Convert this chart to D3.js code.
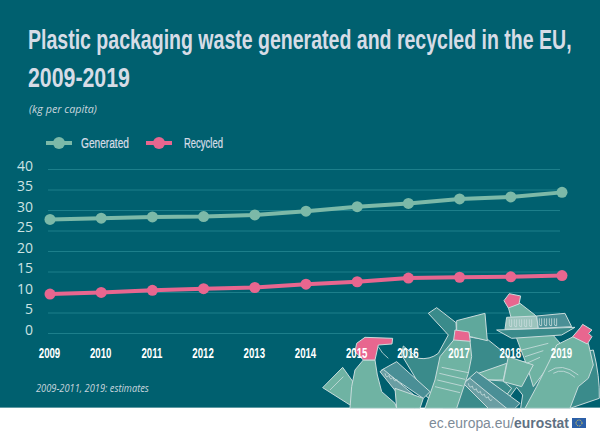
<!DOCTYPE html>
<html>
<head>
<meta charset="utf-8">
<script src="https://cdn.jsdelivr.net/npm/d3@7"></script>
<style>
  html, body { margin: 0; padding: 0; background: #fff; }
  svg { display: block; }
  .narrow { font-family: "Liberation Sans", sans-serif; }
</style>
</head>
<body>
<div id="chart"></div>
<script>
const years = [2009, 2010, 2011, 2012, 2013, 2014, 2015, 2016, 2017, 2018, 2019];
const generated = [27.7, 28.0, 28.3, 28.4, 28.8, 29.7, 30.8, 31.6, 32.7, 33.2, 34.3];
const recycled = [9.5, 9.9, 10.4, 10.8, 11.1, 11.9, 12.5, 13.4, 13.6, 13.7, 14.0];
const yTicks = [0, 5, 10, 15, 20, 25, 30, 35, 40];

const width = 600;
const height = 436;
const panelHeight = 408;
const bgColor = "#00606f";
const green = "#7cb9a8";
const pink = "#e8668f";

const svg = d3.select("#chart").append("svg")
    .attr("width", width)
    .attr("height", height);

svg.append("rect").attr("width", width).attr("height", panelHeight).attr("fill", bgColor);
svg.append("rect").attr("y", panelHeight - 1).attr("width", width).attr("height", 1).attr("fill", "#5f9aa3");

const x = d3.scalePoint().domain(years).range([50, 562]);
const y = d3.scaleLinear().domain([0, 40]).range([333, 169]);

// no condensed font is installed, so squeeze a text to the width it has in the picture
function fitWidth(sel, px, tx, ty) {
    const len = sel.node().getComputedTextLength();
    sel.attr("transform", `translate(${tx},${ty}) scale(${px / len},1)`);
}

// gridlines + y labels
const yAxis = svg.append("g")
    .attr("transform", "translate(48,0)")
    .call(d3.axisLeft(y).tickValues(yTicks).tickSize(-512).tickPadding(15));
yAxis.select(".domain").remove();
yAxis.selectAll("line").attr("stroke", "#1d7f8b").attr("stroke-width", 1);
yAxis.selectAll("text")
    .attr("fill", "#cde3e3")
    .attr("dy", "0.1em")
    .style("font-family", "'Open Sans', sans-serif")
    .style("font-size", "14px");

// illustration, in coordinates 3x the page, from (300,280)
const art = svg.append("g").attr("transform", "translate(300,280) scale(0.3333)");
const back = "#3a8b8b";
const tray = "#4a8f96";
const mid = "#5fa89c";
const light = "#6fb3a3";
const pale = "#9cc4bd";
const edge = "#c8dcdc";
const shapes = [
    // jug with handle at the back
    ["M385,100 L410,83 L468,128 L470,165 L565,180 L640,240 L700,250 L880,210 Q900,290 898,355 L810,385 L430,385 L380,350 L305,225 L310,198 L355,235 Q390,240 415,220 L445,165 Z", back],
    // funnel cup
    ["M470,122 L555,100 L562,182 L520,172 L470,160 Z", mid],
    // top bottle
    ["M625,82 L660,70 L705,105 L790,200 L745,260 L700,320 L680,255 L650,175 Z", light],
    ["M612,62 L628,41 L662,48 L657,72 L625,84 Z", pink],
    // top tray
    ["M590,150 L825,142 L785,165 L635,175 Z", back],
    ["M620,112 L710,108 L715,145 L615,148 Z", pale],
    ["M710,108 L795,100 L815,140 L715,145 Z", tray],
    // left cup
    ["M68,323 L128,262 L180,335 L150,375 Z", light],
    // spray bottle
    ["M190,240 L225,240 L232,285 L245,335 L285,370 L290,385 L150,385 L155,320 L165,270 Z", light],
    ["M165,215 L170,190 L195,172 L278,175 L276,192 L235,195 L225,240 L190,240 Z", pink],
    // middle tray
    ["M245,270 L290,245 L390,335 L370,355 Z", tray],
    ["M240,275 L250,268 L360,360 L345,385 L300,350 Z", "#6a9ea3"],
    ["M285,325 L370,355 L360,385 L290,385 Z", light],
    // right lower tray and cup
    ["M535,280 L620,250 L610,300 L565,300 Z", light],
    ["M565,300 L610,303 L635,325 L620,345 Z", back],
    ["M628,352 L650,322 L668,345 L662,385 L645,385 Z", bgColor],
    ["M490,310 L530,275 L660,370 L645,385 L565,385 Z", tray],
    ["M490,310 L510,295 L620,385 L565,385 Z", "#6a9ea3"],
    ["M625,230 L700,255 L665,320 L610,305 Z", light],
    // bottle in front of 2017
    ["M463,178 L510,182 L515,230 L505,280 L470,385 L375,385 L405,300 L420,230 Z", light],
    ["M461,180 L465,150 L507,156 L511,184 Z", pink],
    // big bottle on the right
    ["M820,170 L865,190 L880,255 L865,295 L835,320 L810,385 L675,385 L710,320 L750,240 L770,195 Z", light],
    ["M818,170 L842,142 L848,133 L876,150 L866,160 L876,170 L862,192 Z", pink]
];
art.selectAll("path.shape")
    .data(shapes)
    .enter()
    .append("path")
    .attr("class", "shape")
    .attr("d", d => d[0])
    .attr("fill", d => d[1])
    .attr("stroke", edge)
    .attr("stroke-width", 3)
    .attr("stroke-linejoin", "round");

// detail lines on the bottles and trays
const details = [
    "M425,262 L505,278 M418,280 L495,298 M412,300 L488,318 M405,320 L480,338",
    "M745,275 Q785,245 835,285 M760,280 Q790,262 825,292",
    "M665,210 L745,190 M675,230 L730,212 M680,250 L720,232",
    "M90,330 L130,290",
    "M235,200 Q245,220 265,235",
    "M255,280 q4,18 12,6 q4,18 12,6 q4,18 12,6",
    "M505,310 q4,18 12,8 q4,18 12,8 q4,18 12,8 q4,18 12,8 q4,18 12,8 q4,18 12,8",
    "M628,118 v16 q0,8 7,6 v-22 m8,0 v16 q0,8 7,6 v-22 m8,0 v16 q0,8 7,6 v-22 m8,0 v16 q0,8 7,6 v-22 m8,0 v16 q0,8 7,6 v-22",
    "M718,115 v16 q0,8 7,6 v-22 m8,0 v16 q0,8 7,6 v-22 m8,0 v16 q0,8 7,6 v-22 m8,0 v16 q0,8 7,6 v-22"
];
art.selectAll("path.detail")
    .data(details)
    .enter()
    .append("path")
    .attr("class", "detail")
    .attr("d", d => d)
    .attr("fill", "none")
    .attr("stroke", edge)
    .attr("stroke-width", 2.5);

// year labels sit on top of the bottles
const xAxis = svg.append("g")
    .attr("transform", "translate(-1,348.5)")
    .call(d3.axisBottom(x).tickFormat(d3.format("d")).tickSize(0).tickPadding(0));
xAxis.select(".domain").remove();
xAxis.selectAll("text")
    .attr("class", "narrow")
    .attr("fill", "#fff")
    .attr("transform", "scale(0.69,1)")
    .style("font-size", "14px")
    .style("font-weight", "bold");

// series lines + dots
const seriesList = [
    { name: "Generated", values: generated, color: green, labelWidth: 48 },
    { name: "Recycled", values: recycled, color: pink, labelWidth: 39 }
];
const line = d3.line().x((d, i) => x(years[i])).y(d => y(d));

seriesList.forEach(s => {
    svg.append("path")
        .attr("d", line(s.values))
        .attr("fill", "none")
        .attr("stroke", s.color)
        .attr("stroke-width", 4);
    svg.selectAll(".dot-" + s.name)
        .data(s.values)
        .enter()
        .append("circle")
        .attr("class", "dot-" + s.name)
        .attr("cx", (d, i) => x(years[i]))
        .attr("cy", d => y(d))
        .attr("r", 5.5)
        .attr("fill", s.color);
});

// title
const title = svg.append("g").attr("class", "narrow")
    .attr("fill", "#d6dce6")
    .style("font-size", "28px")
    .style("font-weight", "bold");
fitWidth(title.append("text").text("Plastic packaging waste generated and recycled in the EU,"), 544, 28, 49);
fitWidth(title.append("text").text("2009-2019"), 102, 28, 87);

const note = sel => sel
    .attr("fill", "#c9d6de")
    .style("font-family", "'Open Sans', sans-serif")
    .style("font-style", "italic")
    .style("font-size", "11px");

fitWidth(svg.append("text").call(note).text("(kg per capita)"), 68, 29, 113);

// legend
const legend = svg.selectAll(".legend")
    .data(seriesList)
    .enter()
    .append("g")
    .attr("class", "legend")
    .attr("transform", (d, i) => `translate(${46 + i * 100},143)`);
legend.append("line").attr("x1", 0).attr("x2", 26)
    .attr("stroke", d => d.color).attr("stroke-width", 4);
legend.append("circle").attr("cx", 13).attr("r", 6).attr("fill", d => d.color);
legend.append("text")
    .attr("class", "narrow")
    .attr("fill", "#d6dce6")
    .attr("stroke", "#d6dce6")
    .attr("stroke-width", 0.25)
    .style("font-size", "14.5px")
    .text(d => d.name)
    .each(function(d, i) {
        fitWidth(d3.select(this), d.labelWidth, 35 + (i ? 3 : 0), 4.5);
    });

// footnote
fitWidth(svg.append("text").call(note).text("2009-2011, 2019: estimates"), 113, 36, 392);

// footer
const footer = svg.append("text")
    .attr("fill", "#7d8b98")
    .style("font-family", "'Liberation Sans', sans-serif")
    .style("font-size", "15.5px");
footer.append("tspan").text("ec.europa.eu/");
footer.append("tspan").attr("font-weight", "bold").attr("fill", "#5f7183").text("eurostat");
fitWidth(footer, 140, 429, 428);

svg.append("rect").attr("x", 572).attr("y", 418).attr("width", 14).attr("height", 10).attr("fill", "#2b5fa8");
svg.append("circle").attr("cx", 579).attr("cy", 423).attr("r", 3)
    .attr("fill", "none").attr("stroke", "#f2d94e").attr("stroke-width", 1).attr("stroke-dasharray", "1 0.9");
</script>
</body>
</html>
